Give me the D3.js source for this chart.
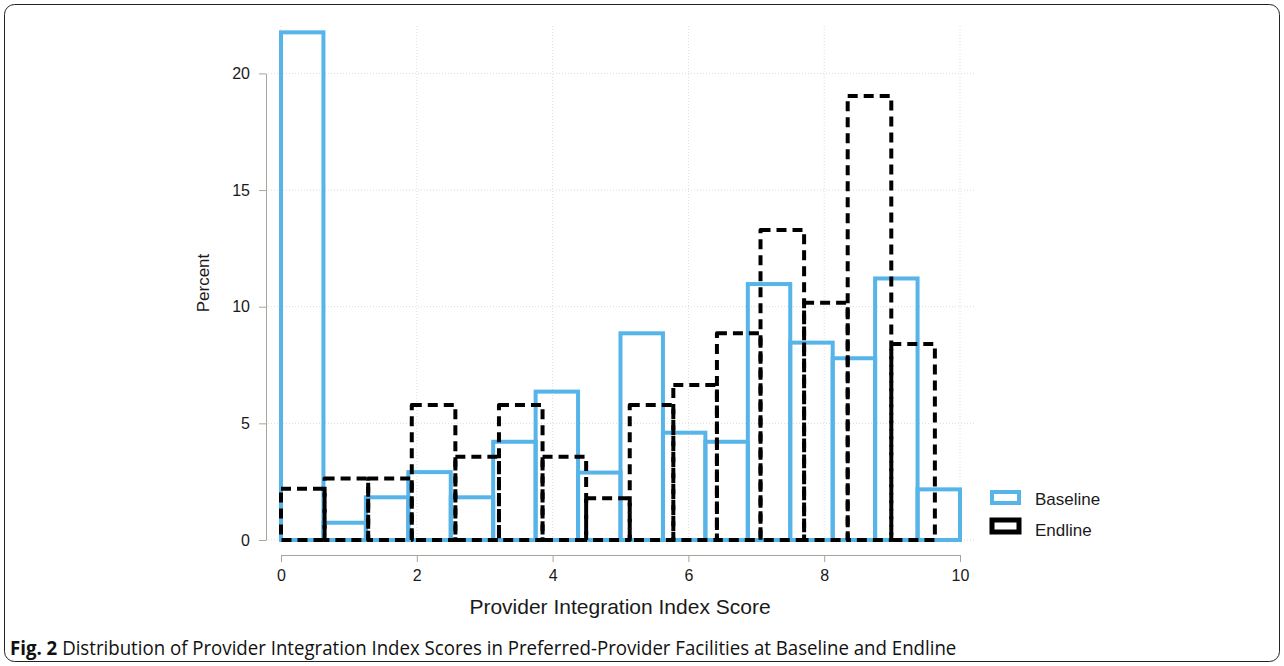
<!DOCTYPE html>
<html><head><meta charset="utf-8">
<script src="https://cdn.jsdelivr.net/npm/d3@7"></script>
<style>body{margin:0;background:#fff}svg{display:block}</style>
</head><body>
<svg id="c" width="1284" height="666"></svg>
<script>
// ---- data (percent of facilities per score bin) ----
const baselinePct = [21.76, 0.74, 1.83, 2.91, 1.83, 4.21, 6.36, 2.89, 8.86, 4.60, 4.21, 10.97, 8.46, 7.79, 11.21, 2.17];
const endlinePct  = [2.20, 2.64, 2.64, 5.79, 3.57, 5.79, 3.57, 1.79, 5.79, 6.64, 8.86, 13.29, 10.17, 19.03, 8.40];
const baselineBinWidth = 0.625;   // 16 bins over 0..10
const endlineBinWidth  = 0.642;   // 15 bins over 0..9.63
const xTicks = [0, 2, 4, 6, 8, 10];
const yTicks = [0, 5, 10, 15, 20];
const seriesNames = ["Baseline", "Endline"];
const xTitle = "Provider Integration Index Score";
const yTitle = "Percent";
const captionBold = "Fig. 2";
const captionText = " Distribution of Provider Integration Index Scores in Preferred-Provider Facilities at Baseline and Endline";

const svg = d3.select("#c");
const blue = "#56B4E9";
const font = "'Liberation Sans', Arial, Helvetica, sans-serif";

// frame
svg.append("rect").attr("x", 4.5).attr("y", 4.5).attr("width", 1275).attr("height", 657)
  .attr("rx", 10).attr("fill", "#fff").attr("stroke", "#222").attr("stroke-width", 1);

const x = d3.scaleLinear().domain([0, 10]).range([281, 960]);
const y = d3.scaleLinear().domain([0, 20]).range([540, 73.4]);

// grid
const grid = svg.append("g").attr("stroke", "#dcdcdc").attr("stroke-width", 1).attr("stroke-dasharray", "1,2");
grid.selectAll("line.h").data(yTicks).join("line")
  .attr("x1", 268).attr("x2", 976).attr("y1", d => y(d)).attr("y2", d => y(d));
grid.selectAll("line.v").data(xTicks).join("line")
  .attr("x1", d => x(d)).attr("x2", d => x(d)).attr("y1", 26).attr("y2", 540);

// baseline bars
const bl = baselinePct.map((v, i) => ({x0: i * baselineBinWidth, x1: (i + 1) * baselineBinWidth, v}));
svg.append("g").selectAll("rect").data(bl).join("rect")
  .attr("x", d => x(d.x0)).attr("width", d => x(d.x1) - x(d.x0))
  .attr("y", d => y(d.v)).attr("height", d => y(0) - y(d.v))
  .attr("fill", "none").attr("stroke", blue).attr("stroke-width", 4);

// endline bars
const el = endlinePct.map((v, i) => ({x0: i * endlineBinWidth, x1: (i + 1) * endlineBinWidth, v}));
svg.append("g").selectAll("rect").data(el).join("rect")
  .attr("x", d => x(d.x0)).attr("width", d => x(d.x1) - x(d.x0))
  .attr("y", d => y(d.v)).attr("height", d => y(0) - y(d.v))
  .attr("fill", "none").attr("stroke", "#000").attr("stroke-width", 4)
  .attr("stroke-dasharray", "10,6").attr("stroke-linejoin", "round");

// y axis
const ya = svg.append("g").attr("transform", "translate(266,0)")
  .call(d3.axisLeft(y).tickValues(yTicks).tickSize(7).tickSizeOuter(0).tickPadding(9));
ya.select(".domain").attr("stroke", "#a8a49a");
ya.selectAll(".tick line").attr("stroke", "#a8a49a");
ya.selectAll(".tick text").attr("font-family", font).attr("font-size", 16).attr("fill", "#1a1a1a");

// x axis
const xa = svg.append("g").attr("transform", "translate(0,555)")
  .call(d3.axisBottom(x).tickValues(xTicks).tickSize(7).tickSizeOuter(0).tickPadding(8));
xa.select(".domain").attr("stroke", "#a8a49a");
xa.selectAll(".tick line").attr("stroke", "#a8a49a");
xa.selectAll(".tick text").attr("font-family", font).attr("font-size", 16).attr("fill", "#1a1a1a");

// titles
svg.append("text").attr("x", 620).attr("y", 614).attr("text-anchor", "middle")
  .attr("font-family", font).attr("font-size", 21).attr("fill", "#1a1a1a").text(xTitle);
svg.append("text").attr("transform", "translate(209,283) rotate(-90)").attr("text-anchor", "middle")
  .attr("font-family", font).attr("font-size", 17).attr("fill", "#1a1a1a").text(yTitle);

// legend
const lg = svg.append("g");
lg.append("rect").attr("x", 992).attr("y", 492).attr("width", 27).attr("height", 11)
  .attr("fill", "#fff").attr("stroke", blue).attr("stroke-width", 4);
lg.append("rect").attr("x", 992).attr("y", 520).attr("width", 27).attr("height", 12)
  .attr("fill", "#fff").attr("stroke", "#000").attr("stroke-width", 5);
lg.append("text").attr("x", 1035).attr("y", 505).attr("font-family", font).attr("font-size", 17)
  .attr("fill", "#1a1a1a").text(seriesNames[0]);
lg.append("text").attr("x", 1035).attr("y", 536).attr("font-family", font).attr("font-size", 17)
  .attr("fill", "#1a1a1a").text(seriesNames[1]);

// caption (condensed look via horizontal scaling)
const capG = svg.append("g");
const cap = capG.append("text").attr("x", 0).attr("y", 0)
  .attr("font-family", "'Open Sans', 'Noto Sans', sans-serif")
  .attr("font-size", 20).attr("fill", "#111");
cap.append("tspan").attr("font-weight", "bold").text(captionBold);
cap.append("tspan").text(captionText);
const w = cap.node().getComputedTextLength();
capG.attr("transform", `translate(10,655) scale(${947 / w},1)`);
</script>
</body></html>
